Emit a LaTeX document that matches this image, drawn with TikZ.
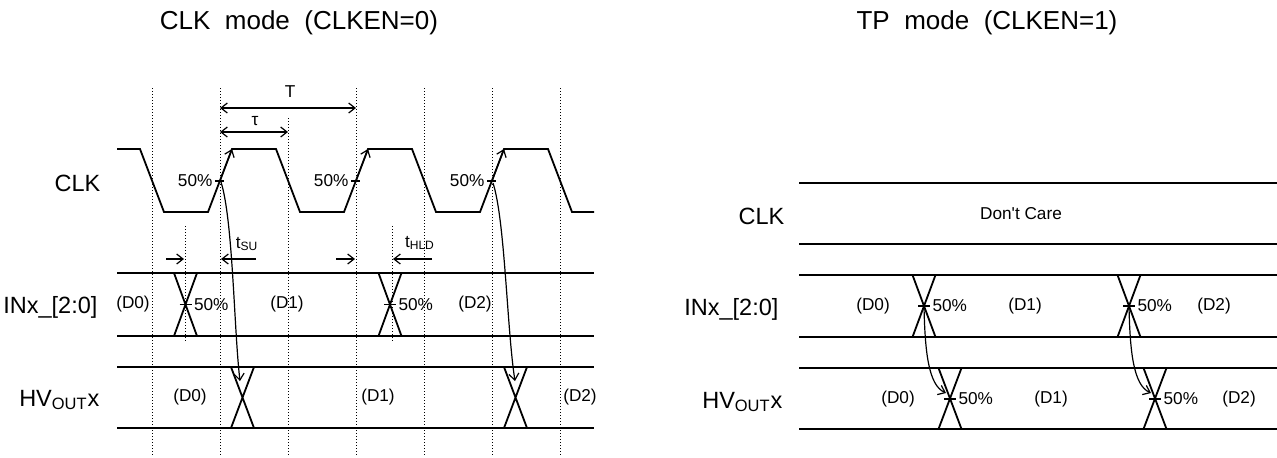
\documentclass[tikz,border=0pt]{standalone}
\usepackage{fontspec}
\setmainfont{Liberation Sans}
\usetikzlibrary{positioning, arrows.meta}

\begin{document}
\begin{tikzpicture}[x=0.5pt, y=-0.5pt, semithick,
	>={Straight Barb[length=3.2pt, width=5pt]},
	wave/.style ={line width=0.9pt},
	grid/.style ={line width=0.5pt, dash pattern=on 0.5pt off 1pt},
	tip/.style ={->, line width=0.6pt},
	sig/.style ={anchor=base east, inner sep=0pt, font=\fontsize{11.75}{14}\selectfont},
	val/.style ={inner sep=0pt, font=\fontsize{8.6}{10}\selectfont},
	title/.style ={font=\fontsize{13}{16}\selectfont}]
	\useasboundingbox (0,0) rectangle (1277,457);

	\node[title] (tclk) at (299,23) {CLK~ mode~ (CLKEN=0)};
	\node[title] (ttp) at (987,23) {TP~ mode~ (CLKEN=1)};

	% CLK mode
	\foreach \k in {0,1,3,4,5,6}
		\draw[grid] (152+68*\k,88) -- (152+68*\k,457);
	\draw[grid] (288,118) -- (288,457);
	\draw[grid] (185,226) -- (185,343);
	\draw[grid] (392,226) -- (392,343);

	\node[sig] (clkL) at (101,191) {CLK};
	\node[sig] (inL) at (98,313) {INx\_[2:0]};
	\node[sig] (hvL) at (100,406) {HV\textsubscript{OUT}x};

	\draw[wave] (117,149) -- (140,149) -- (164,212) -- (208,212) -- (232,149) -- (276,149)
		-- (300,212) -- (344,212) -- (368,149) -- (412,149) -- (436,212) -- (480,212)
		-- (504,149) -- (548,149) -- (572,212) -- (594,212);
	\foreach \x in {220,356,492} {
		\draw[tip] (\x,181) -- (\x+12,149);
		\draw (\x-5,181) -- (\x+4,181);
		\node[val, anchor=east] (p\x) at (\x-7,181) {50\%};
	}

	\coordinate (t0) at (220,108);
	\coordinate (t1) at (356,108);
	\coordinate (u0) at (220,132);
	\coordinate (u1) at (288,132);
	\draw[tip, <->] (t0) -- (t1);
	\draw[tip, <->] (u0) -- (u1);
	\node[val] (T) at (290,92) {T};
	\node[val] (tau) at (255,121) {τ};

	\draw[tip] (166,259) -- (184,259);
	\draw[tip] (256,259) -- (221,259);
	\node[val] (tsu) at (247,244) {t\textsubscript{SU}};
	\draw[tip] (336,259) -- (355,259);
	\draw[tip] (432,259) -- (393,259);
	\node[val] (thld) at (420,243) {t\textsubscript{HLD}};

	\foreach \y in {273,336,367,428}
		\draw[wave] (117,\y) -- (594,\y);

	% crossings
	\foreach \c/\yt/\yb in {185.5/273/336, 390/273/336, 242.5/367/428, 515.5/367/428,
		924/275/337, 1129/275/337, 950/368/429, 1155/368/429}
		\draw[wave] (\c-11.5,\yt) -- (\c+11.5,\yb) (\c+11.5,\yt) -- (\c-11.5,\yb);

	\foreach \c/\y in {185.5/304.5, 390/304.5, 924/306, 1129/306, 950/399, 1155/399} {
		\draw (\c-6,\y) -- (\c+6,\y);
		\node[val, anchor=west] (m\c) at (\c+8,\y) {50\%};
	}

	\node[val] (a0) at (133,304) {(D0)};
	\node[val] (a1) at (287,304) {(D1)};
	\node[val] (a2) at (475,304) {(D2)};
	\node[val] (b0) at (190,397) {(D0)};
	\node[val] (b1) at (378,397) {(D1)};
	\node[val] (b2) at (580,397) {(D2)};

	\coordinate (s1) at (221,182);
	\coordinate (e1) at (240,381);
	\coordinate (s2) at (493,183);
	\coordinate (e2) at (515,381);
	\draw[tip] (s1) .. controls (233,220) and (234,330) .. (e1);
	\draw[tip] (s2) .. controls (505,220) and (507,330) .. (e2);

	% TP mode
	\node[sig] (clkR) at (785,224) {CLK};
	\node[sig] (inR) at (779,315) {INx\_[2:0]};
	\node[sig] (hvR) at (783,408) {HV\textsubscript{OUT}x};

	\foreach \y in {183,244,275,337,368,429}
		\draw[wave] (799,\y) -- (1277,\y);
	\node[val] (dc) at (1021,214) {Don\textquotesingle t Care};

	\node[val] (c0) at (873,306) {(D0)};
	\node[val] (c1) at (1025,306) {(D1)};
	\node[val] (c2) at (1214,306) {(D2)};
	\node[val] (d0) at (898,399) {(D0)};
	\node[val] (d1) at (1051,399) {(D1)};
	\node[val] (d2) at (1239,399) {(D2)};

	\coordinate (s3) at (924,307);
	\coordinate (e3) at (946,393);
	\coordinate (s4) at (1129,307);
	\coordinate (e4) at (1151,393);
	\draw[tip] (s3) .. controls (925,350) and (928,385) .. (e3);
	\draw[tip] (s4) .. controls (1130,350) and (1133,385) .. (e4);
\end{tikzpicture}
\end{document}
